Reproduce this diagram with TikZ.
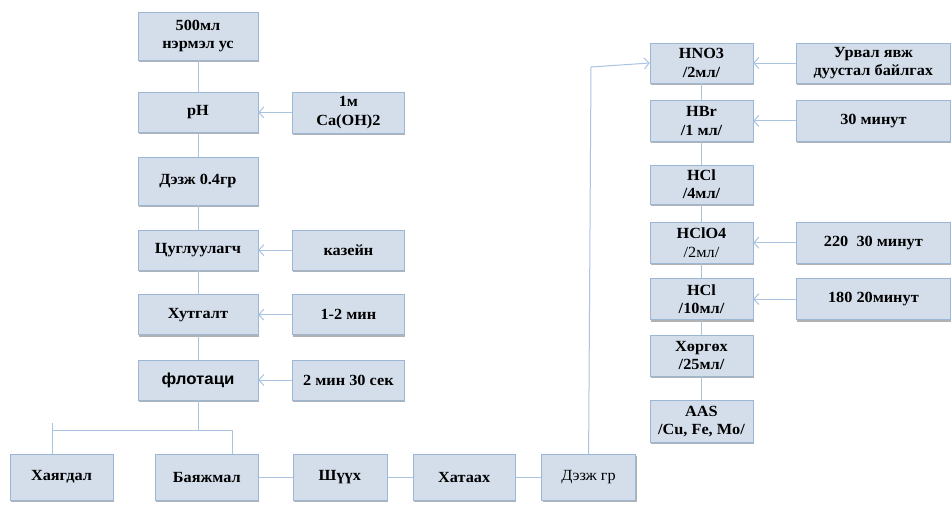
\documentclass[tikz,border=0pt]{standalone}
\usepackage{fontspec}
\setmainfont{Liberation Serif}[FakeStretch=1.05, BoldFont={Liberation Serif Bold}]
\newfontfamily\flotfont{Liberation Sans}[FakeStretch=1.05, BoldFont={Liberation Sans Bold}]
\usetikzlibrary{positioning, shadows, arrows.meta}
\definecolor{boxfill}{HTML}{D4DEEB}
\definecolor{boxedge}{HTML}{9CB6D5}
\definecolor{linkcol}{HTML}{A9C3E0}

\begin{document}
\begin{tikzpicture}[x=1pt, y=-1pt, node distance=24pt,
  box/.style={draw=boxedge, fill=boxfill, rectangle, inner sep=0pt, align=center,
    font=\fontsize{15.5}{18.5}\selectfont\bfseries,
    drop shadow={shadow xshift=1pt, shadow yshift=-2pt, fill=black, opacity=0.3}},
  link/.style={draw=linkcol, line width=1pt},
  arr/.style={link, -{Straight Barb[length=5pt, width=11pt]}}]
\useasboundingbox (0,0) rectangle (951,504);

% left column
\node[box, minimum width=120pt, minimum height=48pt] (water) at (198,36) {500мл\\нэрмэл ус};
\node[box, minimum width=120pt, minimum height=40pt, below=32pt of water] (ph) {pH};
\node[box, minimum width=120pt, minimum height=48pt, below=24pt of ph] (sample) {Дэзж 0.4гр};
\node[box, minimum width=120pt, minimum height=40pt, below=25pt of sample] (collector) {Цуглуулагч};
\node[box, minimum width=120pt, minimum height=40pt, below=24pt of collector] (mixing) {Хутгалт};
\node[box, minimum width=120pt, minimum height=40pt, below=25pt of mixing, font=\fontsize{16}{18.5}\selectfont\flotfont\bfseries] (flot) {флотаци};

\node[box, minimum width=112pt, minimum height=41pt, right=34pt of ph] (lime) {1м\\Ca(OH)2};
\node[box, minimum width=112pt, minimum height=40pt, right=34pt of collector] (casein) {казейн};
\node[box, minimum width=112pt, minimum height=40pt, right=34pt of mixing] (mixtime) {1-2 мин};
\node[box, minimum width=112pt, minimum height=40pt, right=34pt of flot] (flottime) {2 мин 30 сек};

% bottom row
\node[box, minimum width=103pt, minimum height=46pt] (waste) at (61.5,477) {Хаягдал};
\node[box, minimum width=103pt, minimum height=46pt, right=42pt of waste] (conc) {Баяжмал};
\node[box, minimum width=94pt, minimum height=46pt, right=34pt of conc] (filter) {Шүүх};
\node[box, minimum width=102pt, minimum height=46pt, right=26pt of filter] (dry) {Хатаах};
\node[box, minimum width=94pt, minimum height=46pt, right=26pt of dry, font=\fontsize{15.5}{18.5}\selectfont] (portion) {Дэзж гр};

% right column
\node[box, minimum width=103pt, minimum height=40pt] (hno) at (701.5,63) {HNO3\\/2мл/};
\node[box, minimum width=103pt, minimum height=41pt, below=17pt of hno] (hbr) {HBr\\/1 мл/};
\node[box, minimum width=103pt, minimum height=39pt, below=23pt of hbr] (hcla) {HCl\\/4мл/};
\node[box, minimum width=103pt, minimum height=41pt, below=18pt of hcla] (hclo) {HClO4\\{\mdseries /2мл/}};
\node[box, minimum width=103pt, minimum height=41pt, below=15pt of hclo] (hclb) {HCl\\/10мл/};
\node[box, minimum width=103pt, minimum height=41pt, below=15pt of hclb] (cool) {Хөргөх\\/25мл/};
\node[box, minimum width=103pt, minimum height=42pt, below=24pt of cool] (aas) {AAS\\/Cu, Fe, Mo/};

\node[box, minimum width=154pt, minimum height=40pt, right=43pt of hno] (react) {Урвал явж\\дуустал байлгах};
\node[box, minimum width=154pt, minimum height=41pt, right=43pt of hbr] (tbr) {30 минут};
\node[box, minimum width=154pt, minimum height=41pt, right=43pt of hclo] (tclo) {220~~30 минут};
\node[box, minimum width=154pt, minimum height=41pt, right=43pt of hclb] (tclb) {180 20минут};

\coordinate (lstub) at (52,423);
\coordinate (fork) at (232,430);
\coordinate (bend) at (591,67);

\draw[link] (water) -- (ph);
\draw[link] (ph) -- (sample);
\draw[link] (sample) -- (collector);
\draw[link] (collector) -- (mixing);
\draw[link] (mixing) -- (flot);
\draw[arr] (lime) -- (ph);
\draw[arr] (casein) -- (collector);
\draw[arr] (mixtime) -- (mixing);
\draw[arr] (flottime) -- (flot);

\draw[link] (flot) -- (flot |- fork);
\draw[link] (lstub) -- (lstub |- waste.north);
\draw[link] (lstub |- fork) -- (fork) -- (fork |- conc.north);
\draw[link] (conc) -- (filter);
\draw[link] (filter) -- (dry);
\draw[link] (dry) -- (portion);
\draw[arr] (portion.north) -- (bend) -- (hno.west);

\draw[link] (hno) -- (hbr);
\draw[link] (hbr) -- (hcla);
\draw[link] (hcla) -- (hclo);
\draw[link] (hclo) -- (hclb);
\draw[link] (hclb) -- (cool);
\draw[link] (cool) -- (aas);
\draw[arr] (react) -- (hno);
\draw[arr] (tbr) -- (hbr);
\draw[arr] (tclo) -- (hclo);
\draw[arr] (tclb) -- (hclb);
\end{tikzpicture}
\end{document}
